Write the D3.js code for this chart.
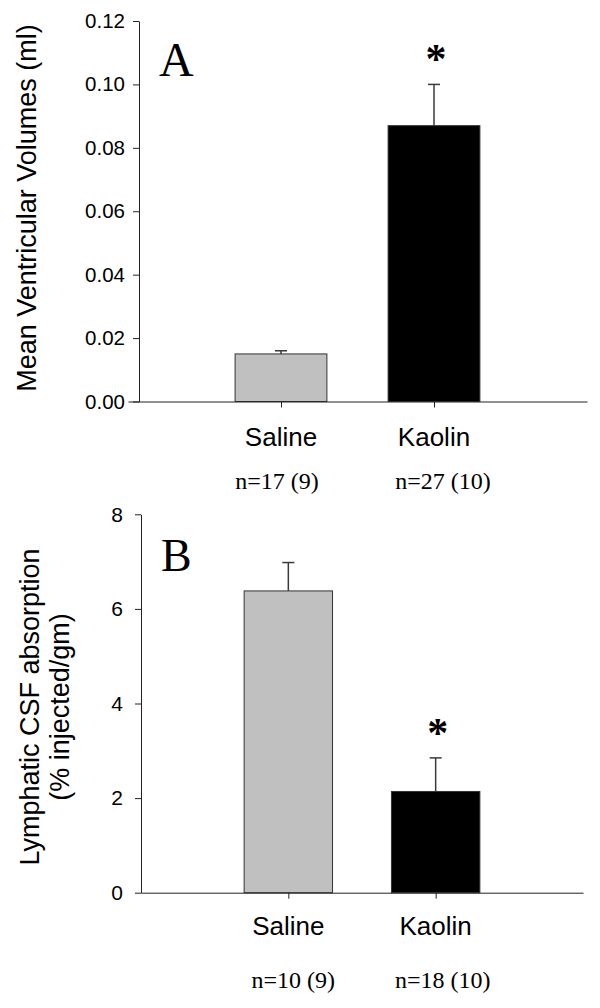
<!DOCTYPE html>
<html>
<head>
<meta charset="utf-8">
<script src="https://cdn.jsdelivr.net/npm/d3@7"></script>
<style>
  html, body { margin: 0; padding: 0; background: #fff; }
  svg { display: block; }
</style>
</head>
<body>
<div id="chart"></div>
<script>
// ---- data ----
const categories = ["Saline", "Kaolin"];
const categoryPositions = [1, 2];
const barFills = ["#c0c0c0", "#000000"];
const volumeMean = [0.015, 0.087];
const volumeSem = [0.001, 0.013];
const absorptionMean = [6.38, 2.14];
const absorptionSem = [0.60, 0.71];
const significant = [false, true];
const nLabelsA = ["n=17 (9)", "n=27 (10)"];
const nLabelsB = ["n=10 (9)", "n=18 (10)"];
const yTicksA = [0, 0.02, 0.04, 0.06, 0.08, 0.10, 0.12];
const yTicksB = [0, 2, 4, 6, 8];
const yTitleA = ["Mean Ventricular Volumes (ml)"];
const yTitleB = ["Lymphatic CSF absorption", "(% injected/gm)"];

const W = 600, H = 1008;
const svg = d3.select("#chart").append("svg").attr("width", W).attr("height", H);

const sans = "'Liberation Sans', Arial, Helvetica, sans-serif";
const serif = "'Liberation Serif', 'Times New Roman', serif";
const axisColor = "#222";

function panel(cfg) {
  const g = svg.append("g");
  const x = d3.scaleLinear().domain([0, 3]).range(cfg.xRange);
  const y = d3.scaleLinear().domain(cfg.yDomain).range(cfg.yRange);
  const barW = x(0.6) - x(0);

  // bars
  g.selectAll("rect.bar").data(cfg.means).join("rect")
    .attr("class", "bar")
    .attr("x", (d, i) => x(categoryPositions[i] - 0.3))
    .attr("width", barW)
    .attr("y", d => y(d))
    .attr("height", d => y(0) - y(d))
    .attr("fill", (d, i) => barFills[i])
    .attr("stroke", "#333")
    .attr("stroke-width", 1);

  // error bars (upper only)
  const eb = g.selectAll("g.err").data(cfg.means).join("g").attr("class", "err")
    .attr("stroke", "#3a3a3a").attr("stroke-width", 1.5);
  eb.append("line")
    .attr("x1", (d, i) => x(categoryPositions[i]))
    .attr("x2", (d, i) => x(categoryPositions[i]))
    .attr("y1", d => y(d))
    .attr("y2", (d, i) => y(d + cfg.sems[i]));
  eb.append("line")
    .attr("x1", (d, i) => x(categoryPositions[i]) - 6)
    .attr("x2", (d, i) => x(categoryPositions[i]) + 6)
    .attr("y1", (d, i) => y(d + cfg.sems[i]))
    .attr("y2", (d, i) => y(d + cfg.sems[i]));

  // asterisks
  g.selectAll("text.sig").data(cfg.means.map((d, i) => ({d, i})).filter(o => significant[o.i])).join("text")
    .attr("class", "sig")
    .attr("x", o => x(categoryPositions[o.i]) + 2)
    .attr("y", o => y(o.d + cfg.sems[o.i]) - 11)
    .attr("text-anchor", "middle")
    .attr("font-family", serif).attr("font-weight", "bold").attr("font-size", 42)
    .text("*");

  // y axis
  const ya = g.append("g")
    .attr("transform", `translate(${cfg.yAxisX},0)`)
    .call(d3.axisLeft(y).tickValues(cfg.yTicks).tickFormat(cfg.fmt)
      .tickSize(6).tickSizeOuter(0).tickPadding(cfg.tickPad));
  ya.select(".domain").attr("stroke", axisColor);
  ya.selectAll(".tick line").attr("stroke", axisColor);
  ya.selectAll(".tick text").attr("font-family", sans).attr("font-size", cfg.tickFont).attr("fill", "#000");

  // x axis
  const xa = g.append("g")
    .attr("transform", `translate(0,${y(0)})`)
    .call(d3.axisBottom(x).tickValues(categoryPositions).tickFormat("")
      .tickSize(6).tickSizeOuter(0));
  xa.select(".domain").attr("stroke", axisColor);
  xa.selectAll(".tick line").attr("stroke", axisColor);

  // category labels
  g.selectAll("text.cat").data(categories).join("text")
    .attr("class", "cat")
    .attr("x", (d, i) => x(categoryPositions[i]))
    .attr("y", cfg.catY)
    .attr("text-anchor", "middle")
    .attr("font-family", sans).attr("font-size", 26)
    .text(d => d);

  // n labels
  g.selectAll("text.n").data(cfg.nLabels).join("text")
    .attr("class", "n")
    .attr("x", (d, i) => x(categoryPositions[i]) + cfg.nDx[i])
    .attr("y", cfg.nY)
    .attr("text-anchor", "middle")
    .attr("font-family", serif).attr("font-size", 24)
    .text(d => d);

  // panel letter
  g.append("text")
    .attr("x", cfg.letterX).attr("y", cfg.letterY)
    .attr("font-family", serif).attr("font-size", cfg.letterSize)
    .text(cfg.letter);

  // y title
  const t = g.append("text")
    .attr("transform", `translate(${cfg.titleX},${cfg.titleY}) rotate(-90)`)
    .attr("text-anchor", "middle")
    .attr("font-family", sans).attr("font-size", cfg.titleSize);
  cfg.title.forEach((line, i) => {
    t.append("tspan").attr("x", 0).attr("y", i * 30).text(line);
  });
}

panel({
  means: volumeMean, sems: volumeSem,
  xRange: [128, 587], yDomain: [0, 0.12], yRange: [401.5, 21],
  yAxisX: 139, yTicks: yTicksA, fmt: d3.format(".2f"), tickPad: 8, tickFont: 20.5,
  catY: 445.5, nLabels: nLabelsA, nY: 489, nDx: [-4, 9],
  letter: "A", letterX: 159, letterY: 76, letterSize: 48,
  title: yTitleA, titleX: 35.5, titleY: 208, titleSize: 27
});

panel({
  means: absorptionMean, sems: absorptionSem,
  xRange: [141, 583], yDomain: [0, 8], yRange: [892.7, 514.3],
  yAxisX: 141, yTicks: yTicksB, fmt: d3.format("d"), tickPad: 12, tickFont: 21,
  catY: 935, nLabels: nLabelsB, nY: 988, nDx: [5, 7],
  letter: "B", letterX: 161, letterY: 570.7, letterSize: 46,
  title: yTitleB, titleX: 39, titleY: 707, titleSize: 27
});
</script>
</body>
</html>
